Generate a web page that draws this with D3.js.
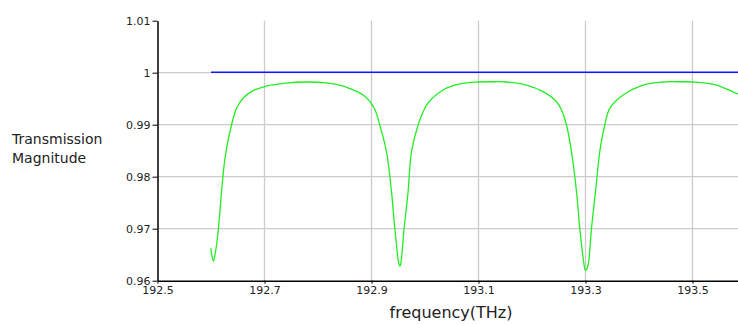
<!DOCTYPE html>
<html><head><meta charset="utf-8">
<script src="https://cdn.jsdelivr.net/npm/d3@7"></script>
<style>body{margin:0;background:#fff;}svg{display:block;font-family:"DejaVu Sans",sans-serif;}</style>
</head><body>
<svg id="c" width="738" height="325"></svg>
<script>
const xTicks = [192.5, 192.7, 192.9, 193.1, 193.3, 193.5];
const yTicks = [0.96, 0.97, 0.98, 0.99, 1, 1.01];
const yTickLabels = ["0.96", "0.97", "0.98", "0.99", "1", "1.01"];
const blueFreq = [192.6, 193.6];
const blueVal = [1.0001, 1.0001];
const greenFreq = [192.5996, 192.6025, 192.6047, 192.6085, 192.6133, 192.6208, 192.627, 192.6383, 192.6477, 192.660, 192.6787, 192.7037, 192.74, 192.7785, 192.815, 192.847, 192.87, 192.8843, 192.8968, 192.906, 192.9155, 192.928, 192.9374, 192.9436, 192.9516, 192.9529, 192.9542, 192.961, 192.9684, 192.9748, 192.9871, 192.9996, 193.0058, 193.0338, 193.065, 193.0993, 193.1253, 193.1523, 193.1897, 193.2207, 193.2458, 193.2551, 193.2645, 193.2738, 193.2832, 193.2893, 193.2974, 193.2993, 193.3010, 193.3049, 193.3112, 193.3187, 193.3267, 193.3361, 193.3454, 193.3703, 193.4077, 193.445, 193.473, 193.5011, 193.5449, 193.5822, 193.59];
const greenVal = [0.96623, 0.96440, 0.96379, 0.96560, 0.96942, 0.97840, 0.98417, 0.98994, 0.99315, 0.99508, 0.99654, 0.99744, 0.99800, 0.99821, 0.99805, 0.99744, 0.99650, 0.99571, 0.99450, 0.99300, 0.98994, 0.98481, 0.97712, 0.97008, 0.96302, 0.96283, 0.96302, 0.97008, 0.97712, 0.98481, 0.98994, 0.99315, 0.99420, 0.99667, 0.99783, 0.99821, 0.99826, 0.99821, 0.99763, 0.99635, 0.99442, 0.99283, 0.98994, 0.98481, 0.97712, 0.97008, 0.96302, 0.96206, 0.96206, 0.96302, 0.97008, 0.97712, 0.98481, 0.98994, 0.99315, 0.99571, 0.99763, 0.99821, 0.99826, 0.99821, 0.99763, 0.99604, 0.99585];

const svg = d3.select("#c");
const L = 157.5, T = 20.7, B = 280.7;
const x = d3.scaleLinear().domain([192.5, 193.6]).range([L, L + 1.1 * 535]);
const y = d3.scaleLinear().domain([0.96, 1.01]).range([B, T]);

// grid
const g = svg.append("g");
g.selectAll("line.vx").data(xTicks.slice(1)).join("line")
  .attr("x1", d => x(d)).attr("x2", d => x(d)).attr("y1", T).attr("y2", B)
  .attr("stroke", "#cccccc").attr("stroke-width", 1.3);
g.selectAll("line.hy").data(yTicks.slice(1, 5)).join("line")
  .attr("x1", L).attr("x2", 738).attr("y1", d => y(d)).attr("y2", d => y(d))
  .attr("stroke", "#cccccc").attr("stroke-width", 1.3);

// lines
const line = d3.line().x(d => x(d[0])).y(d => y(d[1])).curve(d3.curveCatmullRom.alpha(0.5));
svg.append("path").datum(d3.zip(blueFreq, blueVal)).attr("d", line)
  .attr("fill", "none").attr("stroke", "#1515ff").attr("stroke-width", 1.6);
svg.append("path").datum(d3.zip(greenFreq, greenVal)).attr("d", line)
  .attr("fill", "none").attr("stroke", "#22ee22").attr("stroke-width", 1.3);

// axes
const xa = svg.append("g").attr("transform", `translate(0,${B})`)
  .call(d3.axisBottom(x).tickValues(xTicks).tickSize(3).tickSizeOuter(0).tickFormat(d3.format(".1f")));
const ya = svg.append("g").attr("transform", `translate(${L},0)`)
  .call(d3.axisLeft(y).tickValues(yTicks).tickSize(5).tickSizeOuter(0).tickFormat((d, i) => yTickLabels[i]));
[xa, ya].forEach(a => {
  a.select(".domain").attr("stroke", "#000").attr("stroke-width", 1.5);
  a.selectAll(".tick line").attr("stroke", "#000");
  a.selectAll("text").attr("font-family", "DejaVu Sans").attr("font-size", 11).attr("fill", "#222");
});
xa.selectAll("text").attr("dy", "0.95em").attr("y", 3);
ya.selectAll("text").attr("x", -7);

svg.append("text").attr("x", 12).attr("y", 144).attr("font-size", 14).attr("fill", "#222").text("Transmission");
svg.append("text").attr("x", 12).attr("y", 163).attr("font-size", 14).attr("fill", "#222").text("Magnitude");
svg.append("text").attr("x", 451).attr("y", 318).attr("text-anchor", "middle").attr("font-size", 16).attr("fill", "#222").text("frequency(THz)");
</script>
</body></html>
